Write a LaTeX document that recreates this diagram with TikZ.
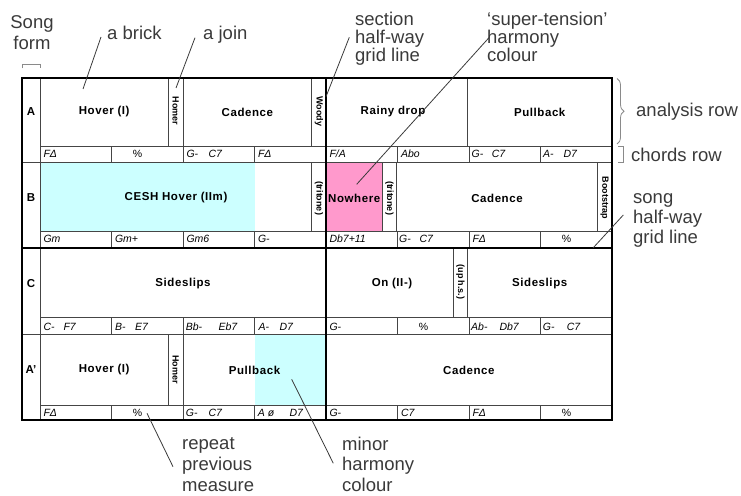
\documentclass[tikz,border=0pt]{standalone}
\usepackage{fontspec}
\setmainfont{Liberation Sans}
\newfontfamily\brickfont[LetterSpace=5]{Liberation Sans}
\usetikzlibrary{decorations.pathreplacing}

\definecolor{minorcyan}{HTML}{CCFFFF}
\definecolor{tensionpink}{HTML}{FF99CC}
\definecolor{gridgray}{HTML}{454545}
\definecolor{bracegray}{HTML}{8A8A8A}
\definecolor{notegray}{HTML}{3A3A3A}

\tikzset{
  thingrid/.style={gridgray, line width=0.75pt},
  thickgrid/.style={black, line width=1.8pt},
  seclabel/.style={font=\bfseries\fontsize{11.5}{13}\selectfont, inner sep=0pt},
  bricklabel/.style={font=\brickfont\bfseries\fontsize{11.5}{13}\selectfont, inner sep=0pt},
  joinlabel/.style={font=\bfseries\fontsize{9}{10}\selectfont, rotate=-90, inner sep=0pt},
  chord/.style={font=\itshape\fontsize{10.5}{12}\selectfont, anchor=west, inner sep=0pt},
  repeatsign/.style={font=\fontsize{10.5}{12}\selectfont, inner sep=0pt},
  note/.style={font=\fontsize{18.5}{19}\selectfont, text=notegray, inner sep=0pt, align=left},
  leader/.style={notegray, line width=0.8pt},
}

\begin{document}
\begin{tikzpicture}[x=1pt, y=-1pt]
  \useasboundingbox (0,0) rectangle (741,495);

  % harmony colours
  \fill[minorcyan] (40,162) rectangle (254.5,231.7);
  \fill[tensionpink] (326,162) rectangle (382.3,231.7);
  \fill[minorcyan] (254.5,334) rectangle (326,405);

  % thin grid: chord rows and measures
  \foreach \ct/\cb in {146.7/162, 231.7/247.7, 317.7/334, 405/420} {
    \draw[thingrid] (40,\ct) -- (612,\ct);
    \foreach \i in {1,2,3,5,6,7}
      \draw[thingrid] ({40+71.5*\i},\ct) -- ({40+71.5*\i},\cb);
  }
  \draw[thingrid] (22,162) -- (612,162);
  \draw[thingrid] (22,334) -- (612,334);
  \draw[thingrid] (40,78) -- (40,420);

  % brick and join edges in the analysis rows
  \foreach \x in {168.3, 183, 311.7, 467.7}
    \draw[thingrid] (\x,78) -- (\x,146.7);
  \foreach \x in {311.7, 382.3, 396.7, 597.3}
    \draw[thingrid] (\x,162) -- (\x,231.7);
  \foreach \x in {453.3, 467.7}
    \draw[thingrid] (\x,247.7) -- (\x,317.7);
  \foreach \x in {168.3, 183}
    \draw[thingrid] (\x,334) -- (\x,405);

  % half-way lines and frame
  \draw[thickgrid] (326,78) -- (326,420);
  \draw[thickgrid] (22,247.7) -- (612,247.7);
  \draw[thickgrid] (22,78) rectangle (612,420);

  % section letters
  \node[seclabel] (secA) at (31,112) {A};
  \node[seclabel] (secB) at (31,198) {B};
  \node[seclabel] (secC) at (31,284) {C};
  \node[seclabel] (secA2) at (31,370) {A'};

  % bricks
  \node[bricklabel] (hoverA) at (104.2,112) {Hover (I)};
  \node[bricklabel] (cadA) at (247.4,112) {Cadence};
  \node[bricklabel] (rainy) at (393,112) {Rainy drop};
  \node[bricklabel] (pullA) at (539.7,112) {Pullback};
  \node[bricklabel] (cesh) at (176,198) {CESH Hover (IIm)};
  \node[bricklabel] (nowhere) at (354.2,198) {Nowhere};
  \node[bricklabel] (cadB) at (497,198) {Cadence};
  \node[bricklabel] (sideC) at (183,284) {Sideslips};
  \node[bricklabel] (on) at (392,284) {On (II-)};
  \node[bricklabel] (sideC2) at (539.7,284) {Sideslips};
  \node[bricklabel] (hoverA2) at (104.2,370) {Hover (I)};
  \node[bricklabel] (pullA2) at (254.5,370) {Pullback};
  \node[bricklabel] (cadA2) at (468.9,370) {Cadence};

  % joins
  \node[joinlabel] (homerA) at (175.7,111) {Homer};
  \node[joinlabel] (woody) at (318.9,111.5) {Woody};
  \node[joinlabel] (triB1) at (318.9,198) {(tritone)};
  \node[joinlabel] (triB2) at (389.5,198) {(tritone)};
  \node[joinlabel] (boot) at (604.5,198) {Bootstrap};
  \node[joinlabel] (uphs) at (460.5,282) {(up h.s.)};
  \node[joinlabel] (homerA2) at (175.7,369.5) {Homer};

  % chords, section A
  \node[chord] (chA1) at (43.3,153.5) {FΔ};
  \node[repeatsign] (chA2) at (137.5,153.5) {\%};
  \node[chord] (chA3) at (186.3,153.5) {G-};
  \node[chord] (chA3b) at (208.3,153.5) {C7};
  \node[chord] (chA4) at (257.8,153.5) {FΔ};
  \node[chord] (chA5) at (329.3,153.5) {F/A};
  \node[chord] (chA6) at (400.8,153.5) {Abo};
  \node[chord] (chA7) at (471.5,153.5) {G-};
  \node[chord] (chA7b) at (491.7,153.5) {C7};
  \node[chord] (chA8) at (543,153.5) {A-};
  \node[chord] (chA8b) at (563.3,153.5) {D7};

  % chords, section B
  \node[chord] (chB1) at (43.3,238.8) {Gm};
  \node[chord] (chB2) at (114.8,238.8) {Gm+};
  \node[chord] (chB3) at (186.3,238.8) {Gm6};
  \node[chord] (chB4) at (257.8,238.8) {G-};
  \node[chord] (chB5) at (329.3,238.8) {Db7+11};
  \node[chord] (chB6) at (399,238.8) {G-};
  \node[chord] (chB6b) at (419.3,238.8) {C7};
  \node[chord] (chB7) at (472.3,238.8) {FΔ};
  \node[repeatsign] (chB8) at (566.5,238.8) {\%};

  % chords, section C
  \node[chord] (chC1) at (43.3,326.8) {C-};
  \node[chord] (chC1b) at (63.3,326.8) {F7};
  \node[chord] (chC2) at (115,326.8) {B-};
  \node[chord] (chC2b) at (135,326.8) {E7};
  \node[chord] (chC3) at (185.7,326.8) {Bb-};
  \node[chord] (chC3b) at (218.3,326.8) {Eb7};
  \node[chord] (chC4) at (258.3,326.8) {A-};
  \node[chord] (chC4b) at (279.3,326.8) {D7};
  \node[chord] (chC5) at (329.3,326.8) {G-};
  \node[repeatsign] (chC6) at (423.5,326.8) {\%};
  \node[chord] (chC7) at (471,326.8) {Ab-};
  \node[chord] (chC7b) at (499.3,326.8) {Db7};
  \node[chord] (chC8) at (542.7,326.8) {G-};
  \node[chord] (chC8b) at (566.7,326.8) {C7};

  % chords, section A'
  \node[chord] (chD1) at (43.3,412.5) {FΔ};
  \node[repeatsign] (chD2) at (137.5,412.5) {\%};
  \node[chord] (chD3) at (185.7,412.5) {G-};
  \node[chord] (chD3b) at (208.3,412.5) {C7};
  \node[chord] (chD4) at (257.7,412.5) {A ø};
  \node[chord] (chD4b) at (289.3,412.5) {D7};
  \node[chord] (chD5) at (329.3,412.5) {G-};
  \node[chord] (chD6) at (400.8,412.5) {C7};
  \node[chord] (chD7) at (472.3,412.5) {FΔ};
  \node[repeatsign] (chD8) at (566.5,412.5) {\%};

  % notes round the chart
  \node[note, align=center, anchor=north, font=\fontsize{18.5}{21.7}\selectfont] (songform) at (32,15) {Song\\form};
  \draw[bracegray, line width=0.8pt] (22,68.3) -- (22,64.5) -- (40,64.5) -- (40,68.3);

  \node[note, anchor=base west] (abrick) at (107,40) {a brick};
  \draw[leader] (83,89) -- ([xshift=-6pt,yshift=3pt]abrick.base west);

  \node[note, anchor=base west] (ajoin) at (203,40) {a join};
  \draw[leader] (176,88) -- ([xshift=-8pt,yshift=2.3pt]ajoin.base west);

  \node[note, anchor=north west, font=\fontsize{18.5}{18}\selectfont] (sectline) at (355,11.7) {section\\half-way\\grid line};
  \draw[leader] (326,96.7) -- ([xshift=-5.7pt,yshift=-25.6pt]sectline.north west);

  \node[note, anchor=north west, font=\fontsize{18.5}{18}\selectfont] (tension) at (487,11.7) {‘super-tension’\\harmony\\colour};
  \draw[leader] (356.7,184.3) -- ([xshift=2.3pt,yshift=-25.6pt]tension.north west);

  \draw[bracegray, line width=0.8pt, decorate, decoration={brace, amplitude=7pt, aspect=0.5}] (617,78.5) -- (617,144);
  \node[note, anchor=base west] (analysis) at (636,116.7) {analysis row};

  \draw[bracegray, line width=0.8pt] (618.3,146) -- (623.3,146) -- (623.3,162.5) -- (618.3,162.5);
  \node[note, anchor=base west] (chordsrow) at (631,161.5) {chords row};

  \node[note, anchor=north west, font=\fontsize{18.5}{20}\selectfont] (songline) at (633,193.7) {song\\half-way\\grid line};
  \draw[leader] (593.3,247.7) -- ([xshift=-9.7pt,yshift=-21.3pt]songline.north west);

  \node[note, anchor=north west, font=\fontsize{18.5}{21}\selectfont] (repeatnote) at (182,437) {repeat\\previous\\measure};
  \draw[leader] (147,413.3) -- ([xshift=-9pt,yshift=-29.7pt]repeatnote.north west);

  \node[note, anchor=north west, font=\fontsize{18.5}{20.5}\selectfont] (minornote) at (342,436.5) {minor\\harmony\\colour};
  \draw[leader] (291.7,379.3) -- ([xshift=-8.7pt,yshift=-26.8pt]minornote.north west);
\end{tikzpicture}
\end{document}
